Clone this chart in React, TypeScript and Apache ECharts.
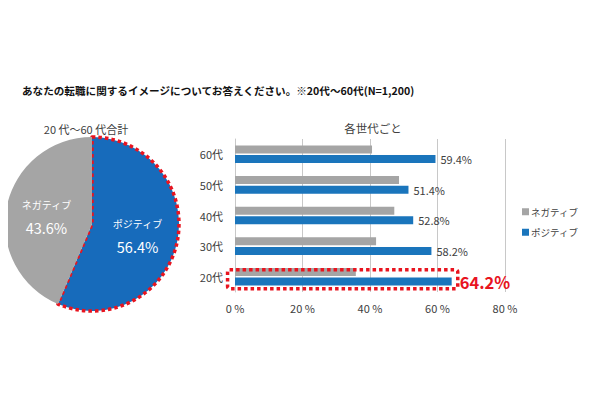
import React, { useEffect, useRef } from "react";
import * as echarts from "echarts";

const titleText = "あなたの転職に関するイメージについてお答えください。※20代～60代(N=1,200)";
const pieTitle = "20 代～60 代合計";
const barTitle = "各世代ごと";
const pieNames = ["ポジティブ", "ネガティブ"];
const pieValues = [56.4, 43.6];
const ageCategories = ["20代", "30代", "40代", "50代", "60代"];
const negativeValues = [35.8, 41.8, 47.2, 48.6, 40.6];
const positiveValues = [64.2, 58.2, 52.8, 51.4, 59.4];
const xTicks = [0, 20, 40, 60, 80];

const FONT = "'Noto Sans CJK JP', 'Noto Sans', sans-serif";
const RED = "#e8141f";
const BLUE_BAR = "#1a75bc";
const BLUE_PIE = "#176bbb";
const GRAY = "#a5a5a5";

export default function App() {
  const ref = useRef<HTMLDivElement>(null);
  useEffect(() => {
    const chart = echarts.init(ref.current!, null, { renderer: "svg" });
    const option: any = {
      animation: false,
      backgroundColor: "#ffffff",
      textStyle: { fontFamily: FONT },
      title: [
        {
          text: titleText,
          left: 17,
          top: 80,
          textStyle: { fontSize: 10.6, fontWeight: "bold", color: "#111", fontFamily: FONT },
        },
        {
          text: pieTitle,
          left: 81,
          textAlign: "center",
          top: 118,
          textStyle: { fontSize: 11, fontWeight: "normal", color: "#404040", fontFamily: FONT },
        },
        {
          text: barTitle,
          left: 368,
          textAlign: "center",
          top: 117,
          textStyle: { fontSize: 11.5, fontWeight: "normal", color: "#404040", fontFamily: FONT },
        },
      ],
      legend: {
        orient: "vertical",
        left: 517,
        top: 202,
        itemWidth: 7,
        itemHeight: 7,
        itemGap: 11,
        icon: "rect",
        data: ["ネガティブ", "ポジティブ"],
        textStyle: { fontSize: 9.5, color: "#404040", fontFamily: FONT, padding: [0, 0, 0, -3] },
      },
      grid: { left: 235, right: 95, top: 139, bottom: 108 },
      xAxis: {
        type: "value",
        min: 0,
        max: 80,
        interval: 20,
        axisLine: { show: false },
        axisTick: { show: false },
        splitLine: { show: true, lineStyle: { color: "#c8c8c8", width: 1 } },
        axisLabel: {
          formatter: (v: number) => (xTicks.includes(v) ? `${v} %` : ""),
          fontSize: 11,
          color: "#404040",
          margin: 10,
          fontFamily: FONT,
        },
      },
      yAxis: {
        type: "category",
        data: ageCategories,
        axisLine: { show: true, lineStyle: { color: "#c8c8c8" } },
        axisTick: { show: false },
        axisLabel: { fontSize: 11, color: "#404040", margin: 12, fontFamily: FONT },
      },
      series: [
        {
          name: "ネガティブ",
          type: "bar",
          data: negativeValues,
          barWidth: 8,
          barGap: "20%",
          itemStyle: { color: GRAY },
        },
        {
          name: "ポジティブ",
          type: "bar",
          data: positiveValues.map((v, i) =>
            i === 0
              ? {
                  value: v,
                  label: {
                    show: true,
                    position: "right",
                    distance: 8,
                    fontSize: 16.5,
                    color: RED,
                    fontWeight: "bold",
                    formatter: "{c}%",
                    fontFamily: FONT,
                  },
                }
              : v
          ),
          barWidth: 8,
          barGap: "20%",
          itemStyle: { color: BLUE_BAR },
          label: {
            show: true,
            position: "right",
            distance: 5,
            fontSize: 11,
            color: "#404040",
            formatter: (p: any) => p.value.toFixed(1) + "%",
            fontFamily: FONT,
          },
        },
        {
          name: "pie",
          type: "pie",
          center: [92, 224],
          radius: [0, 87],
          startAngle: 90,
          clockwise: true,
          data: pieNames.map((n, i) => ({
            name: n,
            value: pieValues[i],
            itemStyle:
              i === 0
                ? { color: BLUE_PIE, borderColor: RED, borderWidth: 3.5, borderType: [3.5, 3] }
                : { color: GRAY, borderWidth: 0 },
          })),
          z: 1,
          label: {
            show: true,
            position: "inside",
            formatter: (p: any) => `{n|${p.name}}\n{v|${p.value.toFixed(1)}%}`,
            rich: {
              n: { fontSize: 10, color: "#fff", fontFamily: FONT, lineHeight: 26 },
              v: { fontSize: 14.5, color: "#fff", fontFamily: FONT, lineHeight: 20 },
            },
          },
          labelLine: { show: false },
          emphasis: { disabled: true },
        },
      ],
    };
    chart.setOption(option);
    // Highlight box around the 20代 group, placed from the chart's own scales
    const pLeft = chart.convertToPixel({ gridIndex: 0 }, [-2.2, ageCategories[0]]) as number[];
    const pRight = chart.convertToPixel({ gridIndex: 0 }, [66, ageCategories[0]]) as number[];
    const cy = pLeft[1];
    chart.setOption({
      graphic: [
        {
          type: "rect",
          shape: { x: pLeft[0], y: cy - 7, width: pRight[0] - pLeft[0], height: 19, r: 2 },
          style: { fill: "none", stroke: RED, lineWidth: 3.5, lineDash: [3.5, 3] },
          z: 100,
        },
      ],
    });
    return () => chart.dispose();
  }, []);
  return <div ref={ref} style={{ width: 600, height: 400, margin: -8 }} />;
}
